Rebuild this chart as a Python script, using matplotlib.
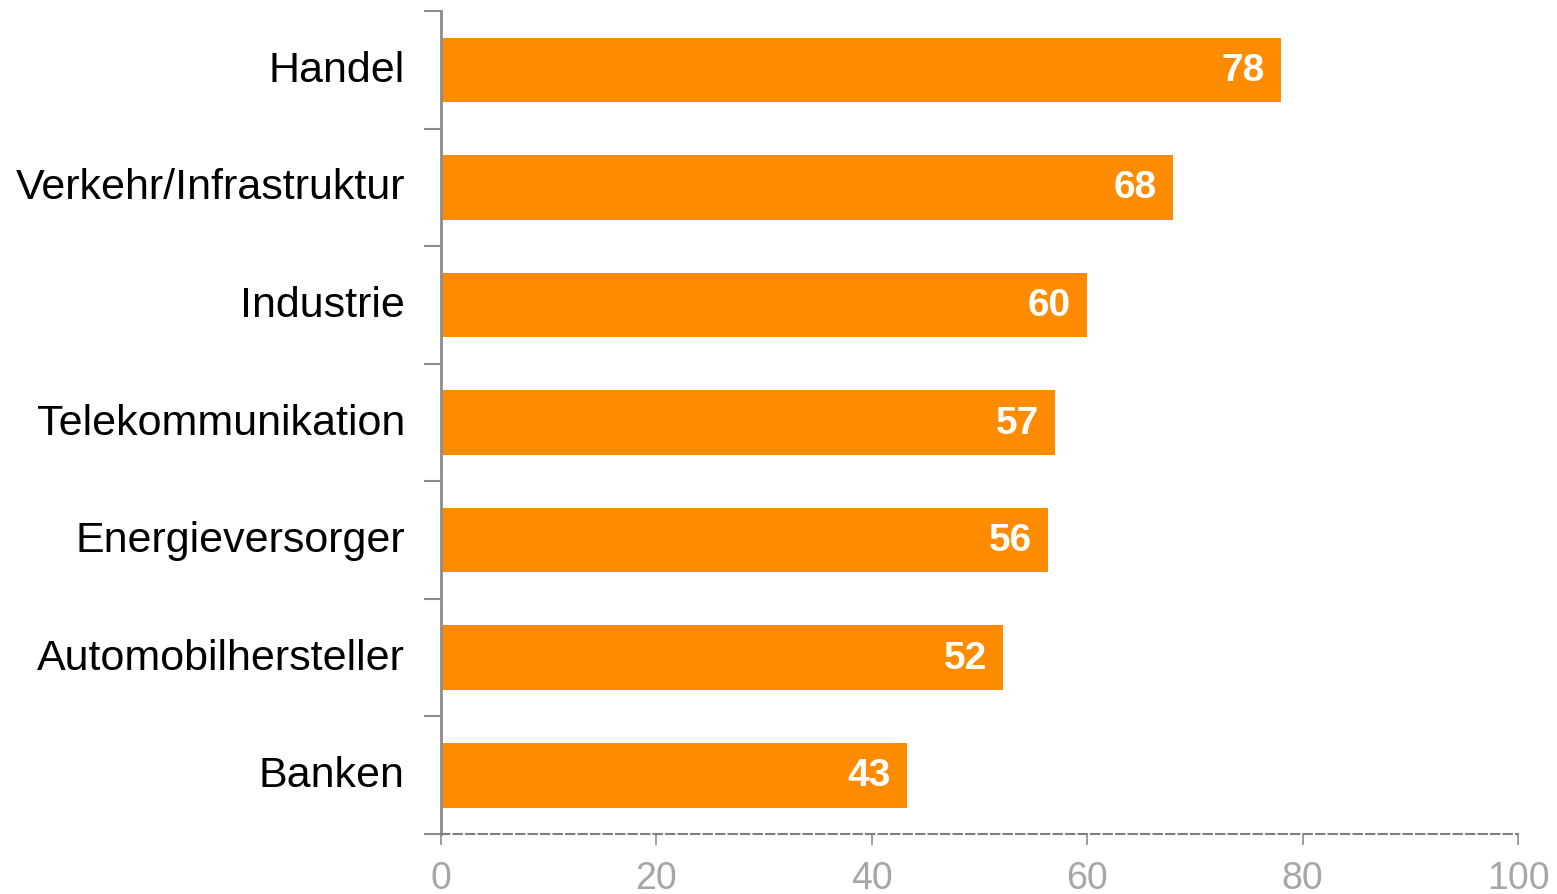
import matplotlib
matplotlib.use('Agg')
import matplotlib.pyplot as plt
import numpy as np

# Data (top to bottom as shown)
categories = ['Handel', 'Verkehr/Infrastruktur', 'Industrie', 'Telekommunikation',
              'Energieversorger', 'Automobilhersteller', 'Banken']
values = [78, 68, 60, 57, 56.4, 52.2, 43.3]
xticks = [0, 20, 40, 60, 80, 100]

plt.rcParams['font.family'] = ['Liberation Sans', 'DejaVu Sans']

fig = plt.figure(figsize=(15.57, 8.95), dpi=100)
ax = fig.add_axes([0.2832, 0.0670, 0.6918, 0.9195])

y = np.arange(len(categories))
ax.barh(y, values, height=0.55, color='#FF8C00')
for yi, v in zip(y, values):
    ax.text(v - 1.5, yi, f'{v:.0f}', ha='right', va='center',
            color='white', fontsize=28, fontweight='bold')

ax.set_ylim(len(categories) - 0.5, -0.5)
ax.set_xlim(0, 100)

ax.set_yticks(y)
ax.set_yticklabels(categories, fontsize=31, color='black', va='center')
ax.tick_params(axis='y', which='major', length=0, pad=26)
ax.set_yticks(np.arange(len(categories) + 1) - 0.5, minor=True)
ax.tick_params(axis='y', which='minor', length=12, width=1.5, color='#8c8c8c')

ax.set_xticks(xticks)
ax.set_xticklabels([str(t) for t in xticks], fontsize=27, color='#a6a6a6')
ax.tick_params(axis='x', length=8, width=1.2, color='#8c8c8c', pad=11)

for s in ['top', 'right']:
    ax.spines[s].set_visible(False)
ax.spines['left'].set_color('#8c8c8c')
ax.spines['left'].set_linewidth(2)
ax.spines['bottom'].set_color('#7f7f7f')
ax.spines['bottom'].set_linewidth(1.5)
ax.spines['bottom'].set_linestyle((0, (4, 2)))

fig.savefig('out.png', dpi=100)
